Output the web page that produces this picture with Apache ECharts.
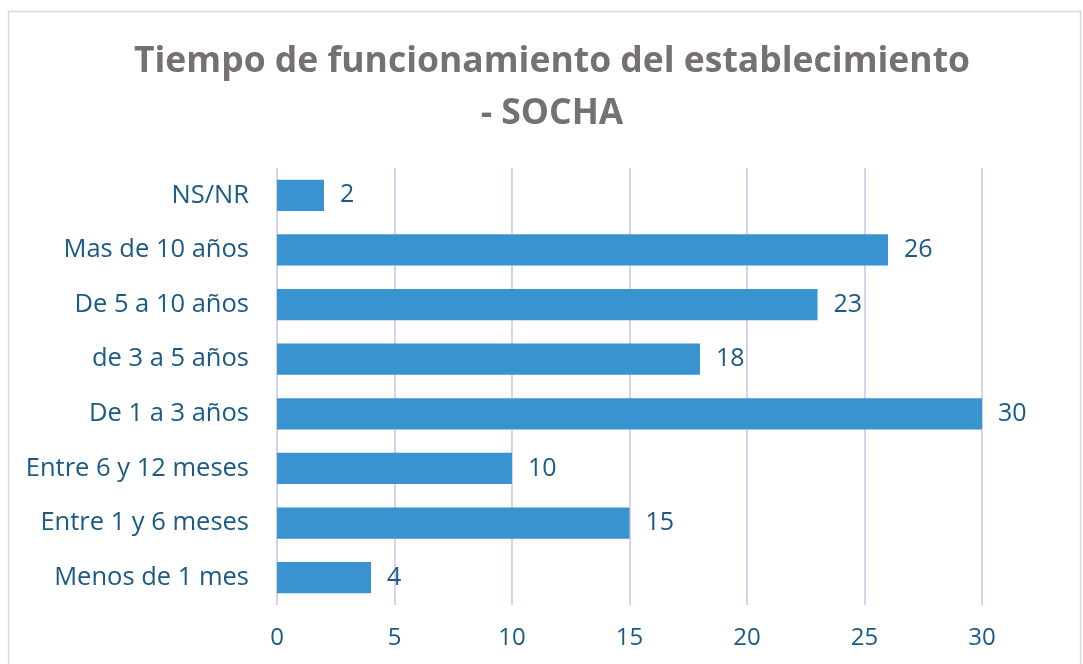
<!DOCTYPE html>
<html>
<head>
<meta charset="utf-8">
<script src="https://cdn.jsdelivr.net/npm/echarts@6/dist/echarts.min.js"></script>
<style>
  html, body { margin: 0; padding: 0; background: #fff; }
  #chart { width: 1083px; height: 664px; }
</style>
</head>
<body>
<div id="chart"></div>
<script>
// categorías de abajo hacia arriba (eje Y)
const categories = [
  "Menos de 1 mes",
  "Entre 1 y 6 meses",
  "Entre 6 y 12 meses",
  "De 1 a 3 años",
  "de 3 a 5 años",
  "De 5 a 10 años",
  "Mas de 10 años",
  "NS/NR"
];
const values = [4, 15, 10, 30, 18, 23, 26, 2];
const xTicks = [0, 5, 10, 15, 20, 25, 30];

const labelColor = "#1b5a84";
const gridColor = "#d8d2f2";

const myChart = echarts.init(document.getElementById("chart"));

const option = {
  backgroundColor: "#fff",
  textStyle: { fontFamily: "Open Sans" },
  title: {
    text: "Tiempo de funcionamiento del establecimiento\n- SOCHA",
    left: 547,
    top: 31,
    textAlign: "center",
    textStyle: {
      fontFamily: "Open Sans",
      fontSize: 35.5,
      fontWeight: "bold",
      color: "#757171",
      lineHeight: 52
    }
  },
  graphic: [
    {
      type: "rect",
      shape: { x: 8.5, y: 11.5, width: 1072, height: 670 },
      style: { fill: "none", stroke: gridColor, lineWidth: 1.5 },
      silent: true
    }
  ],
  grid: {
    left: 277,
    right: 101,
    top: 168,
    bottom: 59,
    containLabel: false
  },
  xAxis: {
    type: "value",
    min: xTicks[0],
    max: xTicks[xTicks.length - 1],
    interval: 5,
    axisLine: { show: false },
    axisTick: { show: false },
    axisLabel: {
      color: labelColor,
      fontSize: 24,
      margin: 21
    },
    splitLine: {
      show: true,
      lineStyle: { color: gridColor, width: 2 }
    }
  },
  yAxis: {
    type: "category",
    data: categories,
    axisLine: { show: false },
    axisTick: { show: false },
    axisLabel: {
      color: labelColor,
      fontSize: 25.5,
      margin: 28
    }
  },
  series: [
    {
      type: "bar",
      data: values,
      barWidth: "57%",
      itemStyle: { color: "#3a93d1" },
      label: {
        show: true,
        position: "right",
        distance: 16,
        color: labelColor,
        fontSize: 25
      }
    }
  ]
};

option && myChart.setOption(option);
</script>
</body>
</html>
